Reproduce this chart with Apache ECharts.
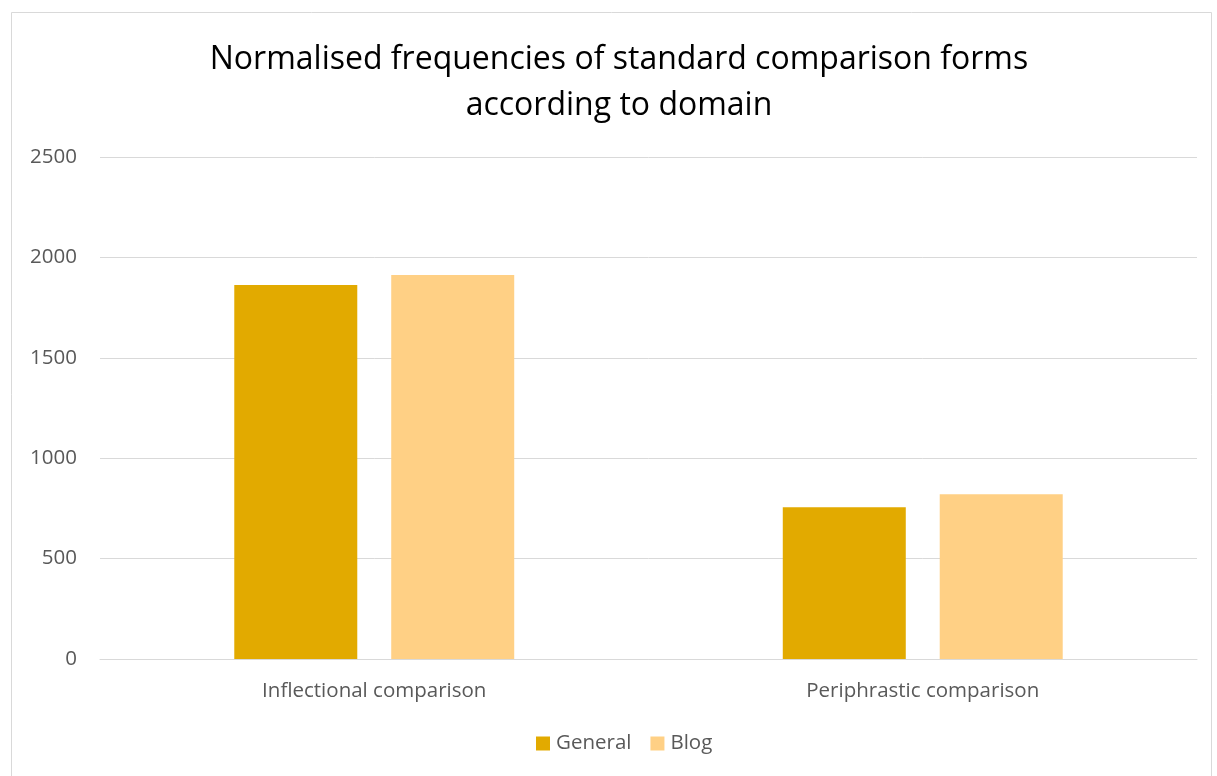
<!DOCTYPE html>
<html><head><meta charset="utf-8">
<script src="https://cdn.jsdelivr.net/npm/echarts@6/dist/echarts.min.js"></script>
<style>html,body{margin:0;padding:0;background:#fff}#c{width:1217px;height:776px}</style>
</head><body><div id="c"></div>
<script>
const categories = ['Inflectional comparison', 'Periphrastic comparison'];
const generalValues = [1863, 756];
const blogValues = [1912, 820];
const yTicks = [0, 500, 1000, 1500, 2000, 2500];
const seriesNames = ['General', 'Blog'];

const chart = echarts.init(document.getElementById('c'));
const font = '"Open Sans", "Noto Sans", sans-serif';
chart.setOption({
  animation: false,
  backgroundColor: '#fff',
  graphic: [{type: 'rect', shape: {x: 11.5, y: 12.5, width: 1200, height: 800}, style: {fill: 'none', stroke: '#d9d9d9', lineWidth: 1}, silent: true}],
  title: {
    text: 'Normalised frequencies of standard comparison forms\naccording to domain',
    left: 614, top: 32, textAlign: 'center',
    textStyle: {fontFamily: font, fontSize: 32, fontWeight: 'normal', color: '#000', lineHeight: 46}
  },
  legend: {
    data: seriesNames, bottom: 17, left: 531, itemWidth: 14, itemHeight: 14, itemGap: 19,
    icon: 'rect',
    textStyle: {fontFamily: font, fontSize: 20.5, color: '#595959', padding: [0, 0, 0, 1]}
  },
  grid: {left: 100, right: 20, top: 157, bottom: 117, containLabel: false},
  xAxis: {
    type: 'category', data: categories,
    axisLine: {lineStyle: {color: '#d9d9d9', width: 1}}, axisTick: {show: false},
    axisLabel: {fontFamily: font, fontSize: 20.5, color: '#595959', margin: 22}
  },
  yAxis: {
    type: 'value', min: 0, max: 2500, interval: 500,
    axisLine: {show: false}, axisTick: {show: false},
    splitLine: {lineStyle: {color: '#d9d9d9', width: 1}},
    axisLabel: {fontFamily: font, fontSize: 20.5, color: '#595959', margin: 23,
      formatter: v => yTicks.includes(v) ? String(v) : ''}
  },
  series: [
    {name: seriesNames[0], type: 'bar', data: generalValues, barWidth: 123, barGap: '27.6%', itemStyle: {color: '#e2aa00'}},
    {name: seriesNames[1], type: 'bar', data: blogValues, barWidth: 123, itemStyle: {color: '#ffd085'}}
  ]
});
</script></body></html>
